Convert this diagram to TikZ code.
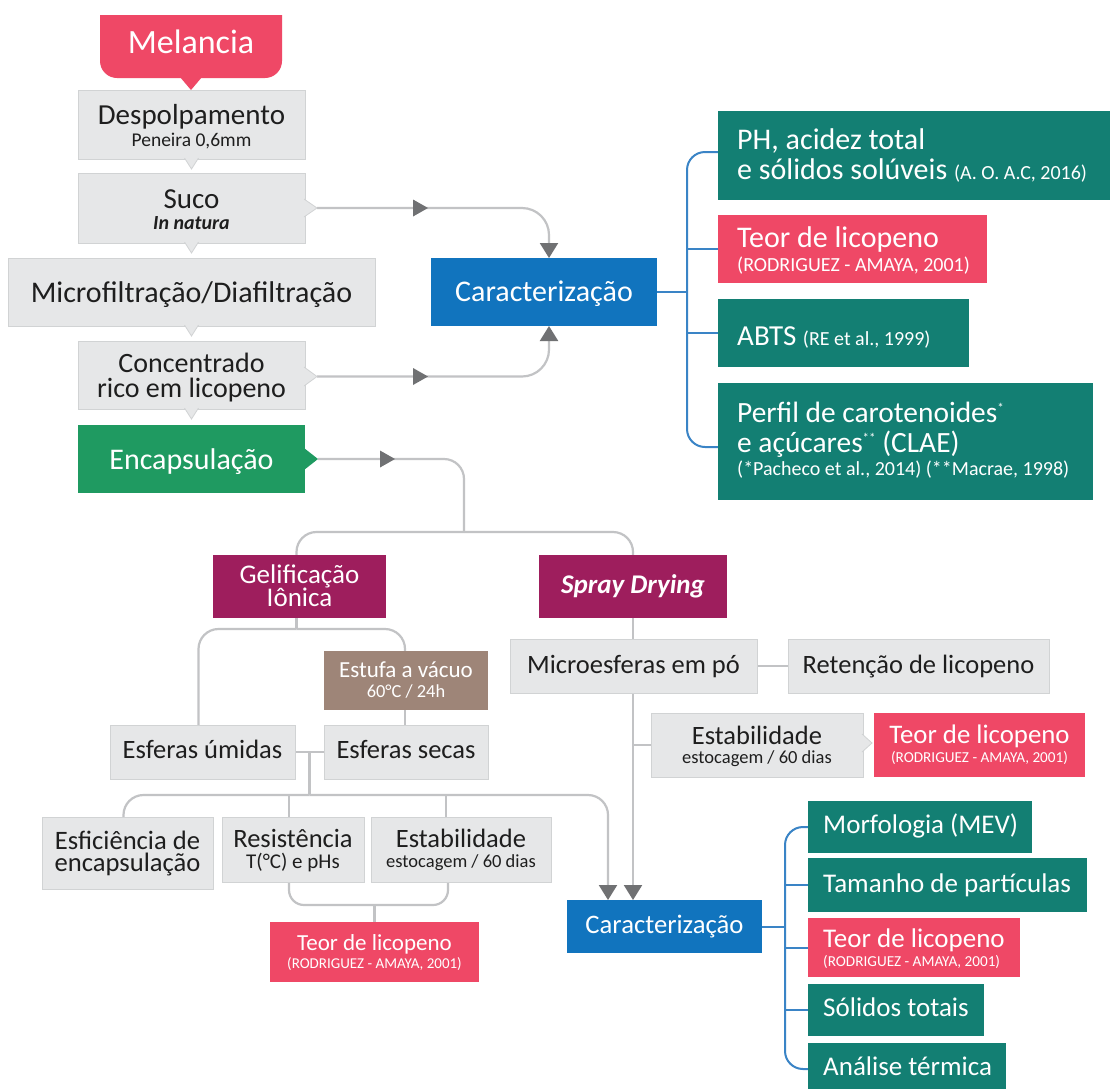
\documentclass[tikz,border=0pt]{standalone}
\usepackage{fontspec}
\setmainfont{Carlito}
\usetikzlibrary{arrows.meta,calc,fit}
\definecolor{boxgray}{HTML}{E6E7E8}
\definecolor{boxborder}{HTML}{D1D3D4}
\definecolor{pinkc}{HTML}{EF4866}
\definecolor{tealc}{HTML}{137F73}
\definecolor{bluec}{HTML}{1174BE}
\definecolor{greenc}{HTML}{1F9A61}
\definecolor{purplec}{HTML}{9E1E5D}
\definecolor{brownc}{HTML}{9E8578}
\definecolor{linegray}{HTML}{C2C3C5}
\definecolor{arrowgray}{HTML}{707173}
\definecolor{blueline}{HTML}{3A84C6}
\definecolor{textdark}{HTML}{1E1E1E}
\pgfdeclarelayer{bg}
\pgfsetlayers{bg,main}
\newcommand\fs[1]{\fontsize{#1}{#1}\selectfont}
\begin{document}
\begin{tikzpicture}[x=1pt,y=-1pt,
  bx/.style={inner sep=0pt, outer sep=0pt},
  gbox/.style={bx, fill=boxgray, draw=boxborder, line width=0.8pt},
  tbox/.style={bx, fill=tealc},
  pbox/.style={bx, fill=pinkc},
  bbox/.style={bx, fill=bluec},
  mbox/.style={bx, fill=purplec},
  txt/.style={inner sep=0pt, anchor=base, text=textdark},
  wtxt/.style={inner sep=0pt, anchor=base, text=white},
  wltxt/.style={inner sep=0pt, anchor=base west, text=white},
  conn/.style={draw=linegray, line width=2.2pt},
  bconn/.style={draw=blueline, line width=2pt},
  endarrow/.style={-{Triangle[length=15pt,width=18pt,color=arrowgray]}},
  gptr/.style={fill=boxgray, draw=boxborder, line width=0.8pt},
]
\useasboundingbox (0,0) rectangle (1110,1088);

% Melancia
\begin{scope}
  \clip (0,15) rectangle (1110,100);
  \fill[pinkc, rounded corners=17pt] (100,-20) rectangle (282,78);
\end{scope}
\fill[pinkc] (180,77) -- (191,90) -- (202,77) -- cycle;
\node[bx, fit={(100,15)(282,78)}] (mel) {};

% boxes
\node[gbox, fit={(78,90)(305,159)}] (desp) {};
\node[gbox, fit={(78,173)(305,243)}] (suco) {};
\node[gbox, fit={(8,258)(375,326)}] (micro) {};
\node[gbox, fit={(78,341)(305,409)}] (conc) {};
\node[bx, fill=greenc, fit={(78,425)(305,493)}] (enc) {};
\node[bbox, fit={(431,258)(657,326)}] (car1) {};
\node[tbox, fit={(718,111)(1112,200)}] (ph) {};
\node[pbox, fit={(718,215)(987,283)}] (teor1) {};
\node[tbox, fit={(718,299)(969,367)}] (abts) {};
\node[tbox, fit={(718,383)(1093,500)}] (perfil) {};
\node[mbox, fit={(213,555)(386,618)}] (gel) {};
\node[mbox, fit={(539,555)(727,618)}] (spray) {};
\node[bx, fill=brownc, fit={(324,651)(488,710)}] (estufa) {};
\node[gbox, fit={(110,725)(295,779)}] (umid) {};
\node[gbox, fit={(324,725)(488,779)}] (secas) {};
\node[gbox, fit={(510,639)(757,693)}] (mpo) {};
\node[gbox, fit={(788,639)(1049,693)}] (ret) {};
\node[gbox, fit={(651,713)(863,777)}] (est2) {};
\node[pbox, fit={(874,713)(1085,777)}] (teor2) {};
\node[gbox, fit={(42,817)(213,889)}] (efi) {};
\node[gbox, fit={(222,817)(364,882)}] (res) {};
\node[gbox, fit={(371,817)(551,882)}] (est1) {};
\node[pbox, fit={(270,922)(479,982)}] (teor3) {};
\node[bbox, fit={(567,900)(762,953)}] (car2) {};
\node[tbox, fit={(808,801)(1032,853)}] (morf) {};
\node[tbox, fit={(808,858)(1087,912)}] (tam) {};
\node[pbox, fit={(808,918)(1020,977)}] (teor4) {};
\node[tbox, fit={(808,984)(984,1036)}] (sol) {};
\node[tbox, fit={(808,1043)(1006,1095)}] (ana) {};

% pointers
\path[gptr] ($(desp.south)+(-7,-1)$) -- ($(desp.south)+(0,10)$) -- ($(desp.south)+(7,-1)$);
\path[gptr] ($(suco.south)+(-7,-1)$) -- ($(suco.south)+(0,10)$) -- ($(suco.south)+(7,-1)$);
\path[gptr] ($(micro.south)+(-7,-1)$) -- ($(micro.south)+(0,10)$) -- ($(micro.south)+(7,-1)$);
\path[gptr] ($(conc.south)+(-7,-1)$) -- ($(conc.south)+(0,10)$) -- ($(conc.south)+(7,-1)$);
\path[gptr] ($(suco.east)+(-1,-9)$) -- ($(suco.east)+(12,0)$) -- ($(suco.east)+(-1,9)$);
\path[gptr] ($(conc.east)+(-1,-8)$) -- ($(conc.east)+(12,1.5)$) -- ($(conc.east)+(-1,11)$);
\fill[greenc] ($(enc.east)+(-1,-11)$) -- ($(enc.east)+(13,0)$) -- ($(enc.east)+(-1,11)$) -- cycle;
\path[gptr] ($(est2.east)+(-1,-11)$) -- ($(est2.east)+(9,-2)$) -- ($(est2.east)+(-1,7)$);

% connectors
\begin{pgfonlayer}{bg}
\fill[white] (0,0) rectangle (1110,1088);
\coordinate (sucotip) at ($(suco.east)+(12,0)$);
\coordinate (conctip) at ($(conc.east)+(12,1.5)$);
\coordinate (enctip) at ($(enc.east)+(13,0)$);
\draw[conn, endarrow, rounded corners=27pt] (sucotip) -| ($(car1.north)+(5,0)$);
\draw[conn, endarrow, rounded corners=27pt] (conctip) -| ($(car1.south)+(5,0)$);
\coordinate (j1) at (464,532);
\draw[conn, rounded corners=20pt] (enctip) -| (j1);
\draw[conn, rounded corners=20pt] (j1) -| ($(gel.north)+(-3,0)$);
\draw[conn, rounded corners=20pt] (j1) -| (spray.north);
\coordinate (j2) at ($(gel.south)+(-3,11)$);
\draw[conn] ($(gel.south)+(-3,0)$) -- (j2);
\draw[conn, rounded corners=20pt] (j2) -| ($(umid.north)+(-4,0)$);
\draw[conn, rounded corners=20pt] (j2) -| ($(estufa.north)+(-1,0)$);
\draw[conn] ($(estufa.south)+(-1,0)$) -- ($(secas.north)+(-1,0)$);
\draw[conn] (umid.east) -- (secas.west);
\coordinate (j3) at ($(umid.east)!0.5!(secas.west)$);
\coordinate (j4) at ($(j3)+(0,43)$);
\draw[conn] (j3) -- (j4);
\draw[conn, rounded corners=20pt] (j4) -| ($(efi.north)+(-4,0)$);
\draw[conn, endarrow, rounded corners=20pt] (j4) -| ($(car2.north)+(-56.5,0)$);
\draw[conn] ($(res.north)+(-4,0)$) -- ++(0,-23);
\draw[conn] ($(est1.north)+(-15,0)$) -- ++(0,-23);
\draw[conn, rounded corners=15pt] ($(res.south)+(-4,0)$) |- ($(est1.south)+(-13,23)$) -- ($(est1.south)+(-13,0)$);
\draw[conn] (teor3.north) -- ++(0,-17);
\draw[conn, endarrow] (spray.south) -- (spray.south |- car2.north);
\draw[conn] (mpo.east) -- (ret.west);
\draw[conn] (spray.south |- est2.west) -- (est2.west);
% blue brackets
\draw[bconn] (car1.east) -- ++(30,0);
\draw[bconn, rounded corners=18pt] ($(ph.west)+(0,-3.5)$) -| ($(perfil.west)+(-31,5.5)$) -- ($(perfil.west)+(0,5.5)$);
\draw[bconn] (teor1.west) -- ++(-31,0);
\draw[bconn] (abts.west) -- ++(-31,0);
\draw[bconn] (car2.east) -- ++(23,0);
\draw[bconn, rounded corners=18pt] (morf.west) -| ($(ana.west)+(-23,0)$) -- (ana.west);
\draw[bconn] (tam.west) -- ++(-23,0);
\draw[bconn] (teor4.west) -- ++(-23,0);
\draw[bconn] (sol.west) -- ++(-23,0);
\end{pgfonlayer}

% mid-line arrow triangles
\fill[arrowgray] ($(sucotip)+(96,-8.5)$) -- ++(15,8.5) -- ++(-15,8.5) -- cycle;
\fill[arrowgray] ($(conctip)+(96,-8.5)$) -- ++(15,8.5) -- ++(-15,8.5) -- cycle;
\fill[arrowgray] ($(enctip)+(62,-8.5)$) -- ++(15,8.5) -- ++(-15,8.5) -- cycle;

% texts
\node[wtxt, font=\fs{34}] (t-mel) at (191,53) {Melancia};
\node[txt, font=\fs{29}] (t-desp1) at (191.5,124) {Despolpamento};
\node[txt, font=\fs{19.5}] (t-desp2) at (191.5,146) {Peneira 0,6mm};
\node[txt, font=\fs{29}] (t-suco1) at (191.5,208) {Suco};
\node[txt, font=\fs{20}\bfseries\itshape] (t-suco2) at (191.5,229) {In natura};
\node[txt, font=\fs{30}] (t-micro) at (191.5,302) {Microfiltração/Diafiltração};
\node[txt, font=\fs{28}] (t-conc1) at (191.5,372) {Concentrado};
\node[txt, font=\fs{28}] (t-conc2) at (191.5,397) {rico em licopeno};
\node[wtxt, font=\fs{30}] (t-enc) at (191.5,469) {Encapsulação};
\node[wtxt, font=\fs{30}] (t-car1) at (544,301) {Caracterização};
\node[wltxt, font=\fs{30}] (t-ph1) at (737,149) {PH, acidez total};
\node[wltxt, font=\fs{30}] (t-ph2) at (737,179) {e sólidos solúveis {\fs{20}(A. O. A.C, 2016)}};
\node[wltxt, font=\fs{30}] (t-teor1a) at (737,247) {Teor de licopeno};
\node[wltxt, font=\fs{20}] (t-teor1b) at (737,271) {(RODRIGUEZ - AMAYA, 2001)};
\node[wltxt, font=\fs{29}] (t-abts) at (737,345) {ABTS {\fs{20}(RE et al., 1999)}};
\node[wltxt, font=\fs{29.4}] (t-perf1) at (737,422) {Perfil de carotenoides\raisebox{10pt}{\fs{13}*}};
\node[wltxt, font=\fs{29.4}] (t-perf2) at (737,452) {e açúcares\raisebox{10pt}{\fs{13}**} (CLAE)};
\node[wltxt, font=\fs{20}] (t-perf3) at (737,475) {(*Pacheco et al., 2014) (**Macrae, 1998)};

\node[wtxt, font=\fs{27}] (t-gel1) at (299.5,583) {Gelificação};
\node[wtxt, font=\fs{27}] (t-gel2) at (299.5,606) {Iônica};
\node[wtxt, font=\fs{27}\bfseries\itshape] (t-spray) at (633,593) {Spray Drying};
\node[wtxt, font=\fs{23}] (t-estf1) at (406,677) {Estufa a vácuo};
\node[wtxt, font=\fs{18.4}] (t-estf2) at (406,697) {60°C / 24h};
\node[txt, font=\fs{26.5}] (t-umid) at (202.5,758) {Esferas úmidas};
\node[txt, font=\fs{26.5}] (t-secas) at (406,758) {Esferas secas};
\node[txt, font=\fs{26.5}] (t-mpo) at (633.5,673) {Microesferas em pó};
\node[txt, font=\fs{26.5}] (t-ret) at (918.5,673) {Retenção de licopeno};
\node[txt, font=\fs{26.5}] (t-est2a) at (757,744) {Estabilidade};
\node[txt, font=\fs{18.5}] (t-est2b) at (757,763) {estocagem / 60 dias};
\node[wtxt, font=\fs{26.8}] (t-teor2a) at (979.5,743) {Teor de licopeno};
\node[wtxt, font=\fs{15.2}] (t-teor2b) at (979.5,762) {(RODRIGUEZ - AMAYA, 2001)};

\node[txt, font=\fs{26.6}] (t-efi1) at (127.5,849) {Esficiência de};
\node[txt, font=\fs{26.6}] (t-efi2) at (127.5,871) {encapsulação};
\node[txt, font=\fs{26.5}] (t-res1) at (293,847) {Resistência};
\node[txt, font=\fs{21}] (t-res2) at (293,868) {T(°C) e pHs};
\node[txt, font=\fs{26.5}] (t-est1a) at (461,847) {Estabilidade};
\node[txt, font=\fs{18.5}] (t-est1b) at (461,867) {estocagem / 60 dias};
\node[wtxt, font=\fs{23}] (t-teor3a) at (374.5,950) {Teor de licopeno};
\node[wtxt, font=\fs{15}] (t-teor3b) at (374.5,968) {(RODRIGUEZ - AMAYA, 2001)};
\node[wtxt, font=\fs{26.7}] (t-car2) at (664.5,933) {Caracterização};
\node[wltxt, font=\fs{27}] (t-morf) at (823,833) {Morfologia (MEV)};
\node[wltxt, font=\fs{27}] (t-tam) at (823,892) {Tamanho de partículas};
\node[wltxt, font=\fs{27}] (t-teor4a) at (823,947) {Teor de licopeno};
\node[wltxt, font=\fs{15.2}] (t-teor4b) at (823,966) {(RODRIGUEZ - AMAYA, 2001)};
\node[wltxt, font=\fs{27}] (t-sol) at (823,1016) {Sólidos totais};
\node[wltxt, font=\fs{27}] (t-ana) at (823,1075) {Análise térmica};
\end{tikzpicture}
\end{document}
